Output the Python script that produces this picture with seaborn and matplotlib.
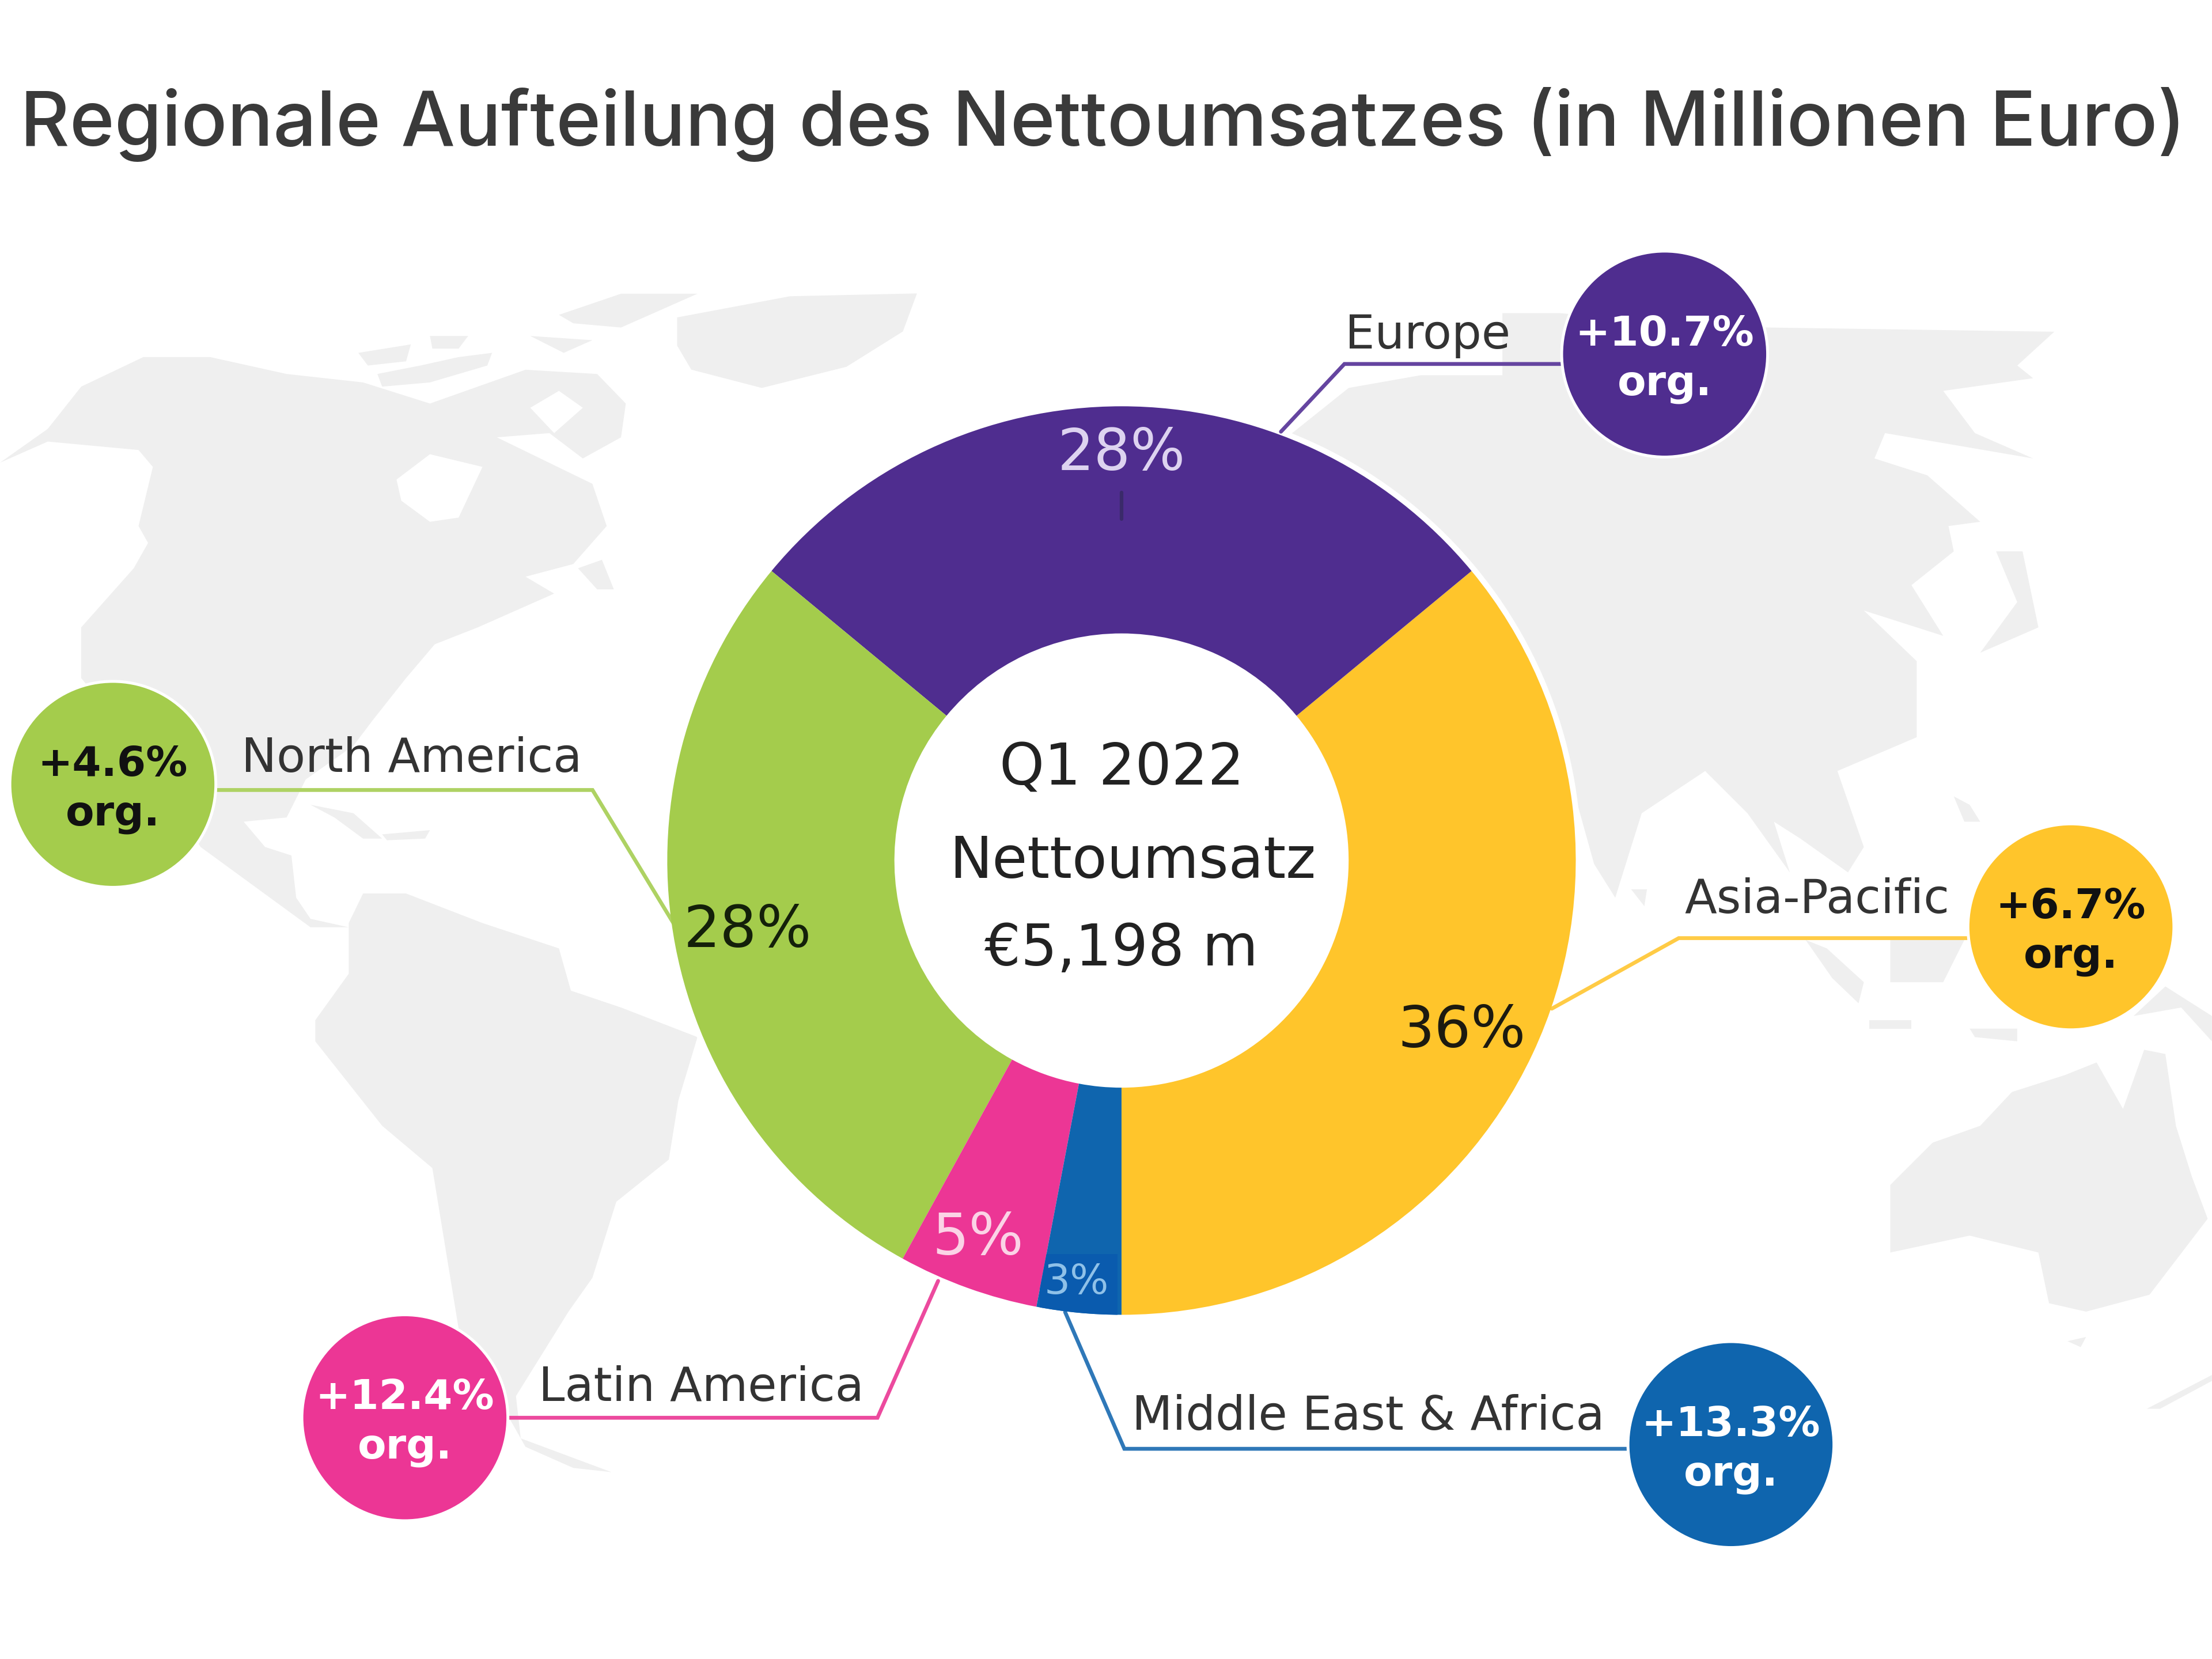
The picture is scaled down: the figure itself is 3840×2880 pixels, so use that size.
import matplotlib
matplotlib.use("Agg")
import matplotlib.pyplot as plt
from matplotlib.patches import Circle, Polygon, Rectangle
import seaborn as sns

regions = ["Asia-Pacific", "Europe", "North America", "Latin America", "Middle East & Africa"]
shares = [36, 28, 28, 5, 3]
growth = ["+6.7%", "+10.7%", "+4.6%", "+12.4%", "+13.3%"]
growth_note = "org."
colors = ["#FFC52B", "#4F2D8F", "#A4CC4C", "#EC3695", "#0F65AE"]
line_colors = ["#FFCB45", "#6545A0", "#AED263", "#EC4A9E", "#2F78B8"]
badge_text = ["#111111", "#ffffff", "#111111", "#ffffff", "#ffffff"]
share_text = ["#1c1a10", "#DDD3F0", "#14200a", "#FBD3E6", "#8FC1E8"]
title = "Regionale Aufteilung des Nettoumsatzes (in Millionen Euro)"
center_lines = ["Q1 2022", "Nettoumsatz", "€5,198 m"]

# layout, in units of a 1568 wide canvas
W, H = 1568, 1176
CX, CY, R = 795, 610, 322
share_pos = [(1036, 731), (795, 322), (530, 660), (693, 878), (763, 909)]
share_size = [24, 24, 24, 24, 17]
badge_pos = [(1468, 657), (1180, 251), (80, 556), (287, 1005), (1227, 1024)]
label_pos = [(1288, 638), (1012, 238), (292, 538), (497, 984), (970, 1004)]
leaders = [
    [(1100, 715), (1190, 665), (1400, 665)],
    [(908, 306), (953, 258), (1112, 258)],
    [(150, 560), (420, 560), (482, 662)],
    [(358, 1005), (622, 1005), (665, 908)],
    [(755, 930), (797, 1027), (1160, 1027)],
]


def zl(pts):
    return [(x / 2.953, y / 1.67 + 163.3) for x, y in pts]


def zr(pts):
    return [(x / 2.667 + 980, y / 1.67 + 163.3) for x, y in pts]


land = [
    # north america
    zl([(0, 275), (100, 235), (170, 185), (300, 150), (440, 150), (600, 170), (760, 180), (900, 205),
        (1000, 185), (1100, 165), (1250, 170), (1310, 205), (1300, 245), (1220, 270), (1150, 240),
        (1040, 245), (1240, 300), (1270, 350), (1200, 395), (1100, 410), (1160, 430), (1060, 455),
        (1000, 470), (910, 490), (850, 530), (780, 580), (740, 610), (640, 650), (600, 695), (510, 700),
        (555, 730), (610, 740), (620, 790), (650, 815), (730, 825), (650, 825), (420, 730), (300, 620),
        (170, 530), (170, 470), (280, 400), (310, 370), (290, 350), (320, 280), (290, 260), (100, 250)]),
    zl([(1170, 100), (1300, 75), (1460, 75), (1300, 115), (1200, 110)]),
    zl([(1110, 125), (1240, 130), (1180, 145)]),
    zl([(750, 145), (860, 135), (850, 155), (770, 160)]),
    zl([(900, 125), (980, 125), (960, 140), (905, 140)]),
    zl([(790, 170), (880, 160), (960, 150), (1030, 145), (1020, 160), (900, 180), (800, 185)]),
    zl([(1210, 400), (1260, 390), (1285, 425), (1250, 425)]),
    zl([(650, 680), (740, 690), (800, 720), (760, 720), (700, 695)]),
    zl([(800, 715), (900, 710), (890, 720), (810, 722)]),
    # greenland
    [(480, 225), (560, 210), (650, 208), (640, 235), (600, 260), (540, 275), (490, 262), (480, 245)],
    # south america
    zl([(660, 935), (730, 880), (730, 820), (760, 785), (850, 785), (1010, 820), (1170, 850), (1195, 900),
        (1300, 920), (1460, 955), (1420, 1030), (1400, 1100), (1290, 1150), (1240, 1240), (1190, 1280),
        (1080, 1380), (1090, 1430), (1280, 1470), (1200, 1465), (1100, 1440), (960, 1300), (905, 1110),
        (800, 1060), (660, 960)]),
    # eurasia
    [(900, 400), (916, 307), (956, 275), (1007, 266), (1065, 266), (1065, 222), (1106, 222), (1200, 230)] +
    zr([(730, 115), (1270, 120), (1200, 160),
        (1230, 175), (1060, 190), (1120, 240), (1230, 270), (950, 240), (930, 270), (1030, 290), (1130, 345),
        (1070, 350), (1080, 380), (1000, 420), (1060, 480), (910, 450), (1010, 510), (1010, 600), (860, 640),
        (910, 730), (880, 760), (790, 720), (740, 700), (770, 760), (690, 690), (610, 640), (490, 690),
        (440, 790), (400, 750), (360, 660), (200, 500)]),
    zr([(1160, 380), (1210, 380), (1240, 470), (1130, 500), (1200, 440)]),
    zr([(1080, 670), (1110, 680), (1130, 700), (1100, 700)]),
    zr([(470, 780), (500, 780), (495, 800)]),
    # islands around the equator
    zr([(800, 840), (840, 850), (910, 890), (900, 915), (850, 885)]),
    zr([(960, 840), (1100, 840), (1060, 890), (960, 890)]),
    zr([(1420, 930), (1480, 895), (1568, 930), (1568, 960), (1510, 920)]),
    zr([(920, 935), (1000, 935), (1000, 945), (920, 945)]),
    zr([(1110, 945), (1200, 945), (1200, 960), (1120, 955)]),
    # australia
    zr([(960, 1130), (1040, 1080), (1130, 1060), (1190, 1020), (1290, 1000), (1350, 985), (1400, 1040),
        (1440, 970), (1480, 975), (1500, 1060), (1530, 1120), (1560, 1170), (1450, 1260), (1330, 1280),
        (1260, 1270), (1240, 1210), (1110, 1190), (960, 1210)]),
    zr([(1295, 1315), (1330, 1310), (1320, 1322)]),
    zr([(1445, 1395), (1568, 1355), (1568, 1362), (1470, 1395)]),
]
lakes = [
    zl([(830, 295), (900, 265), (1010, 280), (960, 340), (900, 345), (840, 320)]),
    zl([(1110, 210), (1170, 190), (1220, 210), (1160, 240)]),
]

sns.set_theme(style="white")
plt.rcParams["font.family"] = ["DejaVu Sans"]

fig = plt.figure(figsize=(12.8, 9.6), dpi=300)
ax = fig.add_axes([0, 0, 1, 1])

for pts in land:
    ax.add_patch(Polygon(pts, closed=True, facecolor="#EFEFEF", edgecolor="none", zorder=0))
for pts in lakes:
    ax.add_patch(Polygon(pts, closed=True, facecolor="#FFFFFF", edgecolor="none", zorder=0.5))

# thin white halo around the ring
ax.add_patch(Circle((CX, CY), R + 4, facecolor="white", edgecolor="none", zorder=0.8))

for pts, col in zip(leaders, line_colors):
    ax.plot([p[0] for p in pts], [p[1] for p in pts], color=col, lw=1.6, zorder=1, solid_joinstyle="miter")

# y axis is flipped below, so 90 / clockwise here ends up as bottom / anticlockwise on screen
wedges, _ = ax.pie(shares, colors=sns.color_palette(colors), startangle=90, counterclock=False,
                   center=(CX, CY), radius=R, wedgeprops=dict(width=R / 2, linewidth=0))
for w in wedges:
    w.set_zorder(2)
ax.set_xlim(0, W)
ax.set_ylim(H, 0)
ax.axis("off")

box = Rectangle((737, 889), 55, 50, facecolor="#0A5BAE", edgecolor="none", zorder=3)
ax.add_patch(box)
box.set_clip_path(wedges[-1])
ax.plot([795, 795], [349, 368], color="#3A2A6A", lw=1.5, zorder=3)

for pos, val, col, size in zip(share_pos, shares, share_text, share_size):
    ax.text(pos[0], pos[1], f"{val}%", color=col, fontsize=size, ha="center", va="center", zorder=5)

for line, y, x in zip(center_lines, [545, 611, 673], [795, 803, 795]):
    ax.text(x, y, line, color="#222222", fontsize=23.8, ha="center", va="center", zorder=5)

for name, pos in zip(regions, label_pos):
    ax.text(pos[0], pos[1], name, color="#333333", fontsize=19.6, ha="center", va="center", zorder=5)

for pos, col, g, tc in zip(badge_pos, colors, growth, badge_text):
    ax.add_patch(Circle(pos, 73, facecolor=col, edgecolor="white", linewidth=1.2, zorder=4))
    ax.text(pos[0], pos[1] - 14, g, color=tc, fontsize=17.3, fontweight="bold", ha="center", va="center", zorder=5)
    ax.text(pos[0], pos[1] + 21, growth_note, color=tc, fontsize=17.3, fontweight="bold", ha="center", va="center", zorder=5)

ax.text(782, 88, title, color="#3A3A3A", fontsize=31.8, family="Inter", fontweight="medium",
        ha="center", va="center", zorder=5)

fig.savefig("out.png", dpi=300, facecolor="white")
